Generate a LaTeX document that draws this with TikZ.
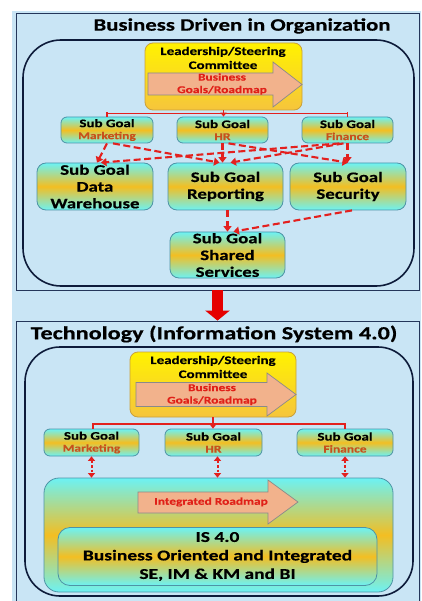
\documentclass[tikz,border=0pt]{standalone}
\usepackage{fontspec}
\newfontfamily\wide[FakeStretch=1.3, BoldFeatures={FakeBold=0.5}]{Carlito}
\usetikzlibrary{arrows.meta}

\definecolor{paper}{HTML}{C9E5F5}
\definecolor{frameline}{HTML}{24365A}
\definecolor{ringline}{HTML}{0D1B3A}
\definecolor{cyanA}{HTML}{6CF2F4}
\definecolor{goldA}{HTML}{F3BE22}
\definecolor{boxedge}{HTML}{4E93A6}
\definecolor{ylA}{HTML}{FFF200}
\definecolor{ylB}{HTML}{F6C53C}
\definecolor{ylEdge}{HTML}{C9A03C}
\definecolor{salmon}{HTML}{F2B28C}
\definecolor{arrowedge}{HTML}{8A8A8A}
\definecolor{linkred}{HTML}{E3201E}
\definecolor{textred}{HTML}{E02018}
\definecolor{deptred}{HTML}{C8501A}

\tikzset{
  panel/.style={draw=frameline, line width=0.8pt, inner sep=0pt},
  ring/.style={draw=ringline, line width=1.6pt, inner sep=0pt},
  title/.style={font=\wide\bfseries\fontsize{17.5}{20}\selectfont, inner sep=0pt},
  leaderbox/.style={draw=ylEdge, line width=0.8pt, rounded corners=8pt,
    top color=ylA, bottom color=ylB, inner sep=0pt},
  roadarrow/.style={draw=arrowedge, line width=0.7pt, fill=salmon},
  leadtext/.style={font=\wide\bfseries\fontsize{11.5}{14}\selectfont, align=center, inner sep=0pt},
  redtext/.style={font=\wide\bfseries\fontsize{10.3}{12.5}\selectfont, text=textred, align=center, inner sep=0pt},
  goalfill/.style={draw=boxedge, line width=0.8pt, top color=cyanA, bottom color=cyanA,
    middle color=goldA, inner sep=0pt, align=center},
  smallgoal/.style={goalfill, rounded corners=6pt, minimum height=26pt,
    font=\wide\bfseries\fontsize{11.5}{12}\selectfont},
  biggoal/.style={goalfill, rounded corners=9pt, minimum width=116pt, minimum height=47pt,
    font=\wide\bfseries\fontsize{14.5}{16.8}\selectfont},
  redbar/.style={draw=linkred, line width=1.6pt},
  flow/.style={draw=linkred, line width=2.1pt, dash pattern=on 7pt off 3.5pt,
    -{Triangle[length=5.5pt,width=8pt]}},
  twoway/.style={draw=linkred, line width=2pt, dash pattern=on 2.5pt off 2pt,
    {Triangle[length=4.5pt,width=7pt]}-{Triangle[length=4.5pt,width=7pt]}},
  bigarrow/.style={draw=red!90!black, line width=11pt,
    -{Triangle[length=10pt,width=24pt]}},
}

\newcommand{\dept}[1]{{\color{deptred}\fontsize{10.4}{12}\selectfont #1}}

\begin{document}
\begin{tikzpicture}[x=1pt,y=-1pt]
\useasboundingbox (0,0) rectangle (421,601);
\clip (0,0) rectangle (421,601);
\fill[white] (0,0) rectangle (421,601);
\fill[paper] (12,11) rectangle (421,601);

% ---------- upper panel: business side ----------
\node[panel, minimum width=403pt, minimum height=277pt] (topPanel) at (217.5,151.5) {};
\node[title] (topTitle) at (242,26) {Business Driven in Organization};
\node[ring, rounded corners=38pt, minimum width=391pt, minimum height=246pt] (topRing) at (218.5,163) {};

\node[leaderbox, minimum width=157pt, minimum height=67pt] (L1) at (223.5,76.5) {};
\draw[roadarrow] (148,73) -- (273,73) -- (273,62) -- (302,84.5) -- (273,107) -- (273,95) -- (148,95) -- cycle;
\node[leadtext] (L1head) at (223,58) {Leadership/Steering\\Committee};
\node[redtext] (L1road) at (222,84) {Business\\Goals/Roadmap};

\node[smallgoal, minimum width=92pt] (M1) at (107,130) {Sub Goal\\\dept{Marketing}};
\node[smallgoal, minimum width=91pt] (H1) at (222.5,130) {Sub Goal\\\dept{HR}};
\node[smallgoal, minimum width=91pt] (F1) at (347.5,130) {Sub Goal\\\dept{Finance}};

\coordinate (bar1L) at (107,113.5);
\coordinate (bar1R) at (347.5,113.5);
\draw[redbar] (bar1L) -- (bar1R);
\draw[redbar] ([yshift=1pt]bar1L) -- (bar1L |- M1.north);
\draw[redbar] ([yshift=1pt]bar1R) -- (bar1R |- F1.north);
\draw[redbar, -{Triangle[length=4pt,width=6pt]}] (L1.south) -- (L1.south |- H1.north);

\node[biggoal] (DW) at (95,186.5) {Sub Goal\\Data\\Warehouse};
\node[biggoal, minimum width=115pt] (RP) at (225.5,186.5) {Sub Goal\\Reporting};
\node[biggoal] (SC) at (348,186.5) {Sub Goal\\Security};
\node[biggoal, minimum width=115pt, minimum height=46pt] (SS) at (227.5,255) {Sub Goal\\Shared\\Services};

\draw[flow] (M1.south) -- ([xshift=2pt]DW.north);
\draw[flow] ([xshift=6pt]M1.south) -- ([xshift=-6pt]RP.north);
\draw[flow] (H1.south) -- (H1.south |- RP.north);
\draw[flow] ([xshift=6pt]H1.south) -- (SC.north);
\draw[flow] ([xshift=-8pt]F1.south) -- ([xshift=6pt]DW.north);
\draw[flow] ([xshift=-4pt]F1.south) -- ([xshift=5pt]RP.north);
\draw[flow] (F1.south) -- (F1.south |- SC.north);
\draw[flow] ([xshift=2pt]RP.south) -- (SS.north);
\draw[flow] ([xshift=4pt]SC.south) -- ([xshift=6pt]SS.north);

% ---------- lower panel: technology side ----------
\node[panel, minimum width=403pt, minimum height=300pt] (botPanel) at (217.5,471) {};
\node[title, font=\wide\bfseries\fontsize{18.6}{21}\selectfont] (botTitle) at (214,334) {Technology (Information System 4.0)};
\node[ring, rounded corners=35pt, minimum width=388pt, minimum height=249pt] (botRing) at (219,471.5) {};

\draw[bigarrow] (topPanel.south) -- (botPanel.north);

\node[leaderbox, minimum width=166pt, minimum height=65pt] (L2) at (213,384.5) {};
\draw[roadarrow] (136,382.5) -- (267,382.5) -- (267,373) -- (296,394.5) -- (267,416) -- (267,406.5) -- (136,406.5) -- cycle;
\node[leadtext] (L2head) at (213,367) {Leadership/Steering\\Committee};
\node[redtext] (L2road) at (212,394.5) {Business\\Goals/Roadmap};

\node[smallgoal, minimum width=95pt, minimum height=27pt] (M2) at (91.5,442.5) {Sub Goal\\\dept{Marketing}};
\node[smallgoal, minimum width=97pt, minimum height=27pt] (H2) at (213.5,442.5) {Sub Goal\\\dept{HR}};
\node[smallgoal, minimum width=96pt, minimum height=27pt] (F2) at (345,442.5) {Sub Goal\\\dept{Finance}};

\coordinate (bar2L) at (93,424);
\coordinate (bar2R) at (345,424);
\draw[redbar] (bar2L) -- (bar2R);
\draw[redbar] ([yshift=1pt]bar2L) -- (bar2L |- M2.north);
\draw[redbar] ([yshift=1pt]bar2R) -- (bar2R |- F2.north);
\draw[redbar, -{Triangle[length=4pt,width=6pt]}] (L2.south) -- (L2.south |- H2.north);

\node[goalfill, rounded corners=15pt, minimum width=349pt, minimum height=114pt] (BG) at (218.5,535) {};
\draw[roadarrow] (138,492) -- (268,492) -- (268,480) -- (298,502) -- (268,524) -- (268,513) -- (138,513) -- cycle;
\node[redtext] (IRtext) at (211,502) {Integrated Roadmap};
\node[goalfill, rounded corners=12pt, minimum width=319pt, minimum height=58pt,
  font=\wide\bfseries\fontsize{15}{18.5}\selectfont] (IS) at (217.5,556.5)
  {IS 4.0\\Business Oriented and Integrated\\SE, IM \& KM and BI};

\draw[twoway] (M2.south) -- (M2.south |- BG.north);
\draw[twoway] ([xshift=4pt]H2.south) -- ([xshift=4pt]H2.south |- BG.north);
\draw[twoway] (F2.south) -- (F2.south |- BG.north);
\end{tikzpicture}
\end{document}
